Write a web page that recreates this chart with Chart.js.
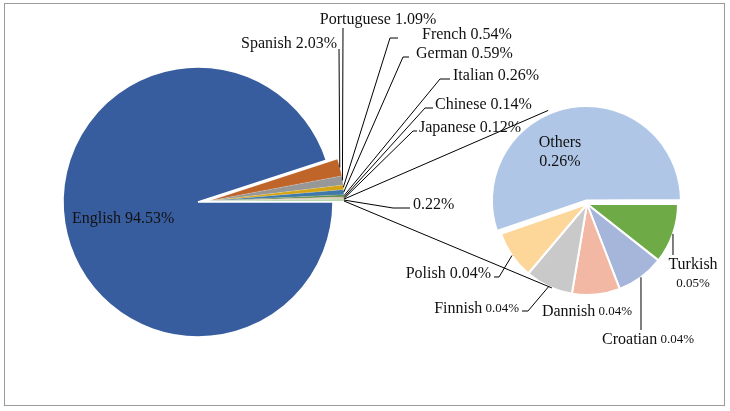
<!DOCTYPE html>
<html>
<head>
<meta charset="utf-8">
<script src="https://cdn.jsdelivr.net/npm/chart.js@4.4.1/dist/chart.umd.min.js"></script>
<style>
  html, body { margin: 0; padding: 0; background: #fff; }
  #wrap { position: relative; width: 730px; height: 411px; background: #fff; }
  #wrap canvas { position: absolute; left: 0; top: 0; }
  #frame { position: absolute; left: 4px; top: 3px; width: 719px; height: 401px; border: 1px solid #9a9a9a; }
</style>
</head>
<body>
<div id="wrap">
  <div id="frame"></div>
  <canvas id="mainPie" width="730" height="411"></canvas>
  <canvas id="groupPie" width="730" height="411"></canvas>
  <canvas id="subPie" width="730" height="411"></canvas>
</div>
<script>
// main pie
const mainLabels = ['English', 'Spanish', 'Portuguese', 'French', 'German', 'Italian', 'Chinese', 'Japanese', 'Others'];
const mainValues = [94.53, 2.03, 1.09, 0.54, 0.59, 0.26, 0.14, 0.12, 0.22];
const mainColors = ['#385d9f', '#c0652a', '#979797', '#d4a515', '#3f78a9', '#5e8f47', '#d9aa9a', '#cbc2a2', '#b4d2a4'];

// secondary pie (breakdown of "Others")
const subLabels = ['Turkish', 'Croatian', 'Dannish', 'Finnish', 'Polish', 'Others'];
const subValues = [0.05, 0.04, 0.04, 0.04, 0.04, 0.26];
const subColors = ['#6eaa45', '#a6b5da', '#f3b8a4', '#c9c9c9', '#fdd699', '#afc6e6'];

const pct = v => v.toFixed(2) + '%';
const FONT = '"Liberation Serif", "Times New Roman", serif';
const BIG = 16, SMALL = 13;

// label placement (text anchor + leader elbow points), kept apart from the data
const mainLabelLayout = [
  { x: 72, y: 219, align: 'left' },
  { x: 337, y: 44, align: 'right', leader: [[339, 49]] },
  { x: 378, y: 20, align: 'center', leader: [[343, 28]] },
  { x: 422, y: 35, align: 'left', leader: [[390, 38], [398, 38]] },
  { x: 416, y: 54, align: 'left', leader: [[403, 57], [409, 57]] },
  { x: 453, y: 76, align: 'left', leader: [[440, 79], [450, 79]] },
  { x: 435, y: 105, align: 'left', leader: [[425, 108], [433, 108]] },
  { x: 419, y: 128, align: 'left', leader: [[413, 131], [417, 131]] },
  { x: 413, y: 205, align: 'left', leader: [[393, 208], [410, 208]] }
];
const subLabelLayout = [
  { x: 693, y: 265, align: 'center', twoLine: true, smallValue: true, leader: [[673, 255]] },
  { x: 648, y: 340, align: 'center', smallValue: true, leader: [[641, 330]] },
  { x: 587, y: 312, align: 'center', smallValue: true },
  { x: 519, y: 309, align: 'right', smallValue: true, leader: [[528, 311], [522, 311]] },
  { x: 491, y: 274, align: 'right', leader: [[499, 277], [494, 277]] },
  { x: 560, y: 143, align: 'center', twoLine: true }
];

function drawParts(ctx, x, y, parts, align) {
  let total = 0;
  parts.forEach(p => { ctx.font = p[1] + 'px ' + FONT; total += ctx.measureText(p[0]).width; });
  let cx = align === 'left' ? x : align === 'right' ? x - total : x - total / 2;
  ctx.textAlign = 'left';
  ctx.textBaseline = 'middle';
  parts.forEach(p => {
    ctx.font = p[1] + 'px ' + FONT;
    ctx.fillText(p[0], cx, y);
    cx += ctx.measureText(p[0]).width;
  });
}

// point on the outer arc of an arc element (mid angle unless given)
function edgePoint(el, angle) {
  const p = el.getProps(['x', 'y', 'startAngle', 'endAngle', 'outerRadius'], true);
  const off = (el.options.offset || 0) / 2;
  const mid = (p.startAngle + p.endAngle) / 2;
  const cx = p.x + Math.cos(mid) * off, cy = p.y + Math.sin(mid) * off;
  const r = p.outerRadius + off / 2;
  const a = angle === undefined ? mid : angle;
  return { x: cx + Math.cos(a) * r, y: cy + Math.sin(a) * r, cx, cy, r, p };
}

function leaderLine(ctx, start, pts) {
  ctx.beginPath();
  ctx.moveTo(start.x, start.y);
  pts.forEach(q => ctx.lineTo(q[0], q[1]));
  ctx.stroke();
}

function tangentPoint(P, cx, cy, r, sign) {
  const d = Math.hypot(P.x - cx, P.y - cy);
  const base = Math.atan2(P.y - cy, P.x - cx);
  const a = Math.acos(r / d);
  const t = base + sign * a;
  return [cx + Math.cos(t) * r, cy + Math.sin(t) * r];
}

const labelPlugin = {
  id: 'pieOfPieLabels',
  afterDraw(chart) {
    const ctx = chart.ctx;
    const groupMeta = groupChart.getDatasetMeta(0);
    const subMeta = chart.getDatasetMeta(0);
    ctx.save();
    ctx.strokeStyle = '#000';
    ctx.lineWidth = 1;
    ctx.fillStyle = '#111';

    // series lines from the main "Others" slice to the secondary pie
    const otherEl = groupMeta.data[mainValues.length - 1];
    const op = otherEl.getProps(['startAngle', 'endAngle'], true);
    const topStart = edgePoint(otherEl, op.startAngle);
    const botStart = edgePoint(otherEl, op.endAngle);
    const subOthers = edgePoint(subMeta.data[subValues.length - 1]);
    const subPlain = edgePoint(subMeta.data[0]);
    leaderLine(ctx, topStart, [tangentPoint(topStart, subOthers.cx, subOthers.cy, subOthers.r, 1)]);
    leaderLine(ctx, botStart, [tangentPoint(botStart, subPlain.p.x, subPlain.p.y, subPlain.r, -1)]);

    // main pie labels
    mainLabels.forEach((name, i) => {
      const lay = mainLabelLayout[i];
      if (lay.leader) leaderLine(ctx, edgePoint(groupMeta.data[i]), lay.leader);
      const text = i === mainLabels.length - 1 ? pct(mainValues[i]) : name + ' ' + pct(mainValues[i]);
      drawParts(ctx, lay.x, lay.y, [[text, BIG]], lay.align);
    });

    // secondary pie labels
    subLabels.forEach((name, i) => {
      const lay = subLabelLayout[i];
      if (lay.leader) leaderLine(ctx, edgePoint(subMeta.data[i]), lay.leader);
      const vSize = lay.smallValue ? SMALL : BIG;
      if (lay.twoLine) {
        drawParts(ctx, lay.x, lay.y, [[name, BIG]], 'center');
        drawParts(ctx, lay.x, lay.y + 19, [[pct(subValues[i]), vSize]], 'center');
      } else {
        drawParts(ctx, lay.x, lay.y, [[name, BIG], [' ' + pct(subValues[i]), vSize]], lay.align);
      }
    });
    ctx.restore();
  }
};

const baseOptions = {
  responsive: false,
  maintainAspectRatio: false,
  animation: false,
  rotation: 90,
  plugins: { legend: { display: false }, tooltip: { enabled: false } }
};

// English slice (the small slices are drawn pulled out, on the canvas above)
const mainChart = new Chart(document.getElementById('mainPie'), {
  type: 'pie',
  data: {
    labels: mainLabels,
    datasets: [{
      data: mainValues,
      backgroundColor: ctx => ctx.dataIndex === 0 ? mainColors[0] : 'rgba(0,0,0,0)',
      borderColor: '#ffffff',
      borderWidth: ctx => ctx.dataIndex === 0 ? 1.5 : 0
    }]
  },
  options: Object.assign({}, baseOptions, {
    radius: 135,
    layout: { padding: { left: 0, right: 334, top: 0, bottom: 7 } }
  })
});

// the small languages, exploded as a group
const groupChart = new Chart(document.getElementById('groupPie'), {
  type: 'pie',
  data: {
    labels: mainLabels,
    datasets: [{
      data: mainValues,
      backgroundColor: ctx => ctx.dataIndex === 0 ? 'rgba(0,0,0,0)' : mainColors[ctx.dataIndex],
      borderColor: 'rgba(255,255,255,0.3)',
      borderWidth: ctx => ctx.dataIndex === 0 ? 0 : 0.4
    }]
  },
  options: Object.assign({}, baseOptions, {
    radius: 135,
    layout: { padding: { left: 22, right: 334, top: 0, bottom: 9 } }
  })
});

const subChart = new Chart(document.getElementById('subPie'), {
  type: 'pie',
  data: {
    labels: subLabels,
    datasets: [{
      data: subValues,
      backgroundColor: subColors,
      borderColor: '#ffffff',
      borderWidth: 2,
      offset: ctx => ctx.dataIndex === subValues.length - 1 ? 14 : 0
    }]
  },
  options: Object.assign({}, baseOptions, {
    radius: 91,
    layout: { padding: { left: 444, right: 0, top: 0, bottom: 3 } }
  }),
  plugins: [labelPlugin]
});
</script>
</body>
</html>
